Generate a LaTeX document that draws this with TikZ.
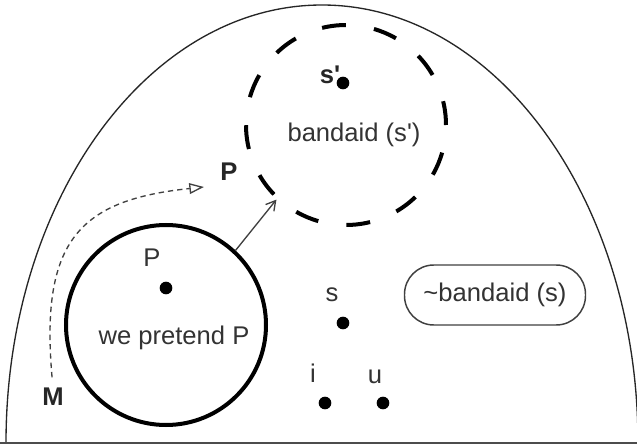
\documentclass[tikz,border=0pt]{standalone}
\usepackage{fontspec}
\setmainfont{Liberation Sans}
\usetikzlibrary{arrows.meta}
\begin{document}
\begin{tikzpicture}[x=0.75pt,y=-0.75pt,
  lbl/.style={font=\fontsize{19.2}{23}\selectfont, text=black!80, inner sep=0pt},
  boldlbl/.style={font=\fontsize{19.2}{23}\selectfont\bfseries, text=black!85, inner sep=0pt},
  dot/.style={circle, fill=black, inner sep=0pt, minimum size=9.5pt},
  region/.style={circle, draw=black, line width=3pt, inner sep=0pt, minimum size=150pt},
  thinline/.style={draw=black!75, line width=1pt}
]
\useasboundingbox (0,0) rectangle (637,446);
\fill[white] (0,0) rectangle (637,446);
\clip (0,0) rectangle (637,446);

% outer dome and base line
\draw[black!85, line width=1pt] (6,443) arc[start angle=180, end angle=0, x radius=237pt, y radius=328.5pt];
\draw[black!70, line width=1.2pt] (0,443) -- (637,443);

% the dashed bandaid region
\node[region, dash pattern=on 18pt off 21.3pt] (band) at (346,125) {};
\node[boldlbl] (sprimelbl) at (330,75) {s\textquotesingle};
\node[dot] (sprime) at (343,83) {};
\node[lbl] (bandtxt) at (354,135) {bandaid (s\textquotesingle)};

% the pretended region
\node[region] (pretend) at (166,325) {};
\node[lbl] (plbl) at (152,258) {P};
\node[dot] (pdot) at (166,288) {};
\node[lbl] (pretendtxt) at (174,338) {we pretend P};

% labels
\node[boldlbl] (bigP) at (229,172) {P};
\node[boldlbl] (M) at (53,397) {M};
\coordinate (Mtip) at (204,187);

% other points
\node[lbl] (slbl) at (332,295) {s};
\node[dot] (s) at (343,323) {};
\node[lbl] (ilbl) at (313,373) {i};
\node[dot] (i) at (325,403) {};
\node[lbl] (ulbl) at (375,377) {u};
\node[dot] (u) at (383,403) {};

\node[lbl, draw=black!75, line width=1.1pt, rounded corners=22pt,
      minimum width=135.75pt, minimum height=45pt] (notband) at (495,295) {\textasciitilde bandaid (s)};

% connectors
\draw[thinline, -{Straight Barb[length=7pt,width=8pt]}] (pretend.47) -- (band.227);
\draw[thinline, dash pattern=on 4pt off 3pt, -{Triangle[open,length=11pt,width=8pt]}, shorten <=8pt]
  (M.north) .. controls (40,240) and (80,200) .. (Mtip);
\end{tikzpicture}
\end{document}
